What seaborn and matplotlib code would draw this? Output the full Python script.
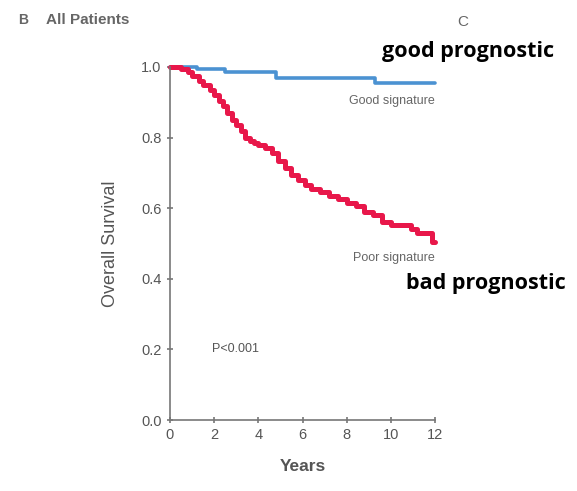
import numpy as np
import pandas as pd
import matplotlib
matplotlib.use("Agg")
import matplotlib.pyplot as plt
import seaborn as sns

# Data
poor_years = [0, 0.5, 0.8, 1.0, 1.3, 1.5, 1.8, 2.0, 2.2, 2.4, 2.6, 2.8, 3.0, 3.2, 3.4,
              3.6, 3.8, 4.0, 4.3, 4.6, 4.9, 5.2, 5.5, 5.8, 6.1, 6.4, 6.8, 7.2, 7.6,
              8.0, 8.4, 8.8, 9.2, 9.6, 10.0, 10.9, 11.2, 11.6, 11.85, 12.0]
poor_surv = [1.0, 0.995, 0.985, 0.975, 0.96, 0.95, 0.935, 0.92, 0.905, 0.89, 0.87, 0.85,
             0.835, 0.82, 0.80, 0.79, 0.785, 0.78, 0.77, 0.755, 0.735, 0.715, 0.695,
             0.68, 0.665, 0.655, 0.645, 0.635, 0.625, 0.615, 0.605, 0.59, 0.58, 0.56,
             0.553, 0.54, 0.53, 0.53, 0.505, 0.505]
good_years = [0, 1.2, 2.5, 4.8, 9.3, 12.0]
good_surv = [1.0, 0.993, 0.985, 0.97, 0.955, 0.955]
x_ticks = [0, 2, 4, 6, 8, 10, 12]
y_ticks = [0.0, 0.2, 0.4, 0.6, 0.8, 1.0]

poor = pd.DataFrame({"Years": poor_years, "Survival": poor_surv})
good = pd.DataFrame({"Years": good_years, "Survival": good_surv})

sns.set_style("ticks")
plt.rcParams["font.family"] = ["Liberation Sans", "DejaVu Sans"]

fig = plt.figure(figsize=(5.77, 4.91), dpi=100)
ax = fig.add_axes([170/577, 71/491, 265/577, 353/491])

sns.lineplot(data=good, x="Years", y="Survival", ax=ax, color="#4b92d2",
             lw=2.6, drawstyle="steps-post", clip_on=False)
sns.lineplot(data=poor, x="Years", y="Survival", ax=ax, color="#e8174a",
             lw=3.6, drawstyle="steps-post", clip_on=False)
for ln in ax.lines:
    ln.set_solid_joinstyle("round")
    ln.set_solid_capstyle("round")

ax.set_xlim(0, 12)
ax.set_ylim(0, 1)
ax.set_xticks(x_ticks)
ax.set_yticks(y_ticks)
ax.set_xticklabels([str(t) for t in x_ticks])
ax.set_yticklabels([f"{t:.1f}" for t in y_ticks])
sns.despine(ax=ax)
for s in ("left", "bottom"):
    ax.spines[s].set_color("#777777")
    ax.spines[s].set_linewidth(1.2)
ax.tick_params(axis="both", colors="#777777", labelcolor="#555555",
               labelsize=10.5, length=5, width=1.2, direction="inout")
ax.set_xlabel("Years", fontsize=12.5, color="#555555", fontweight="bold", labelpad=12)
ax.set_ylabel("Overall Survival", fontsize=13, color="#555555", labelpad=16)
ax.grid(False)

ax.text(12, 0.905, "Good signature", ha="right", va="center", fontsize=9, color="#666666")
ax.text(12, 0.46, "Poor signature", ha="right", va="center", fontsize=9, color="#666666")
ax.text(1.9, 0.2, "P<0.001", ha="left", va="center", fontsize=9, color="#555555")

fig.text(18/577, 1 - 20/491, "B", fontsize=10, color="#666666", fontweight="bold", va="center")
fig.text(46/577, 1 - 20/491, "All Patients", fontsize=11, color="#666666", fontweight="bold", va="center")
fig.text(457/577, 1 - 22/491, "C", fontsize=11, color="#666666", va="center")
fig.text(468/577, 1 - 52/491, "good prognostic", fontsize=15.5, fontweight="bold",
         color="black", ha="center", va="center", family=["Open Sans", "DejaVu Sans"])
fig.text(486/577, 1 - 283/491, "bad prognostic", fontsize=15.5, fontweight="bold",
         color="black", ha="center", va="center", family=["Open Sans", "DejaVu Sans"])

fig.savefig("out.png", dpi=100, facecolor="white")
